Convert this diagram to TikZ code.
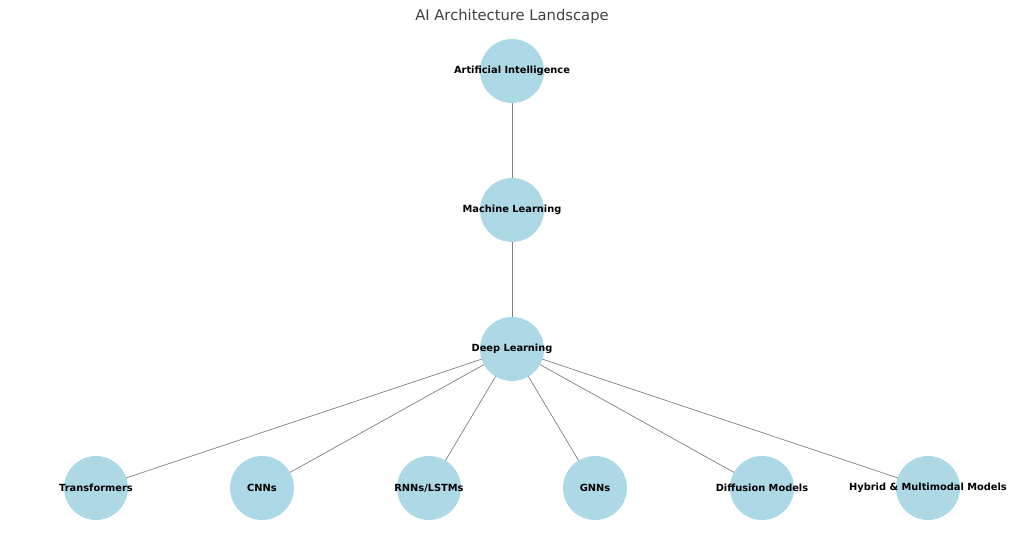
\documentclass[tikz,border=0pt]{standalone}
\usepackage{fontspec}
\setmainfont{DejaVu Sans}
\usetikzlibrary{backgrounds}
\definecolor{nodeblue}{RGB}{173,216,230}
\tikzset{
  concept/.style={circle, fill=nodeblue, inner sep=0pt, minimum size=1.28cm,
    label={[font=\fontsize{5.6}{6}\selectfont\bfseries]center:#1}},
  link/.style={draw=black!50, line width=0.4pt}
}
\begin{document}
\begin{tikzpicture}[x=0.02cm, y=-0.02cm]
    \useasboundingbox (0,0) rectangle (1024,540);
    \node[font=\fontsize{8.4}{10}\selectfont, text=black!75] (title) at (512,16) {AI Architecture Landscape};
    \node[concept={Artificial Intelligence}] (ai) at (512,71) {};
    \node[concept={Machine Learning}] (ml) at (512,210) {};
    \node[concept={Deep Learning}] (dl) at (512,349) {};
    \node[concept={Transformers}] (tr) at (96,488) {};
    \node[concept={CNNs}] (cnn) at (262,488) {};
    \node[concept={RNNs/LSTMs}] (rnn) at (429,488) {};
    \node[concept={GNNs}] (gnn) at (595,488) {};
    \node[concept={Diffusion Models}] (diff) at (762,488) {};
    \node[concept={Hybrid \& Multimodal Models}] (hyb) at (928,488) {};
    \begin{pgfonlayer}{background}
        \draw[link] (ai.center) -- (ml.center);
        \draw[link] (ml.center) -- (dl.center);
        \foreach \n in {tr,cnn,rnn,gnn,diff,hyb}
            \draw[link] (dl.center) -- (\n.center);
    \end{pgfonlayer}
\end{tikzpicture}
\end{document}
